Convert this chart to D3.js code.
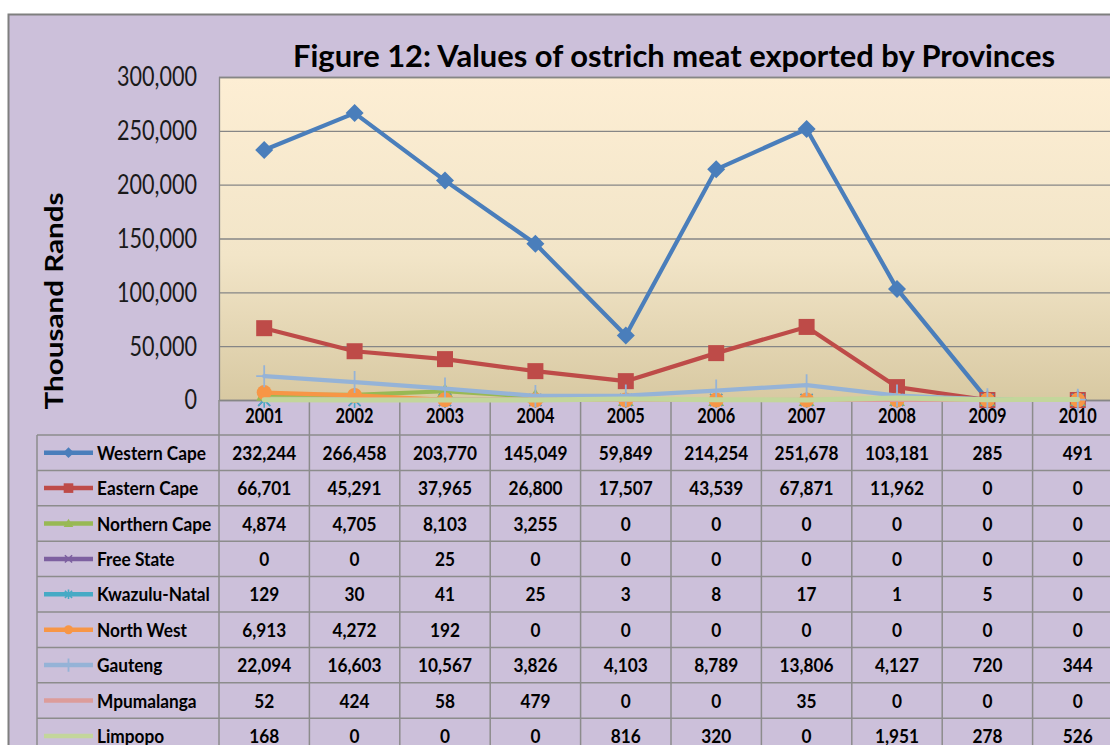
<!DOCTYPE html>
<html><head><meta charset="utf-8">
<script src="https://cdn.jsdelivr.net/npm/d3@7"></script>
<style>
html,body{margin:0;padding:0;background:#fff;overflow:hidden}
text{font-family:Lato,"Open Sans",sans-serif}
</style></head>
<body>
<svg id="c" width="1110" height="745"></svg>
<script>
const years = ["2001","2002","2003","2004","2005","2006","2007","2008","2009","2010"];
const provinces = ["Western Cape","Eastern Cape","Northern Cape","Free State","Kwazulu-Natal","North West","Gauteng","Mpumalanga","Limpopo"];
const westernCape  = [232244,266458,203770,145049,59849,214254,251678,103181,285,491];
const easternCape  = [66701,45291,37965,26800,17507,43539,67871,11962,0,0];
const northernCape = [4874,4705,8103,3255,0,0,0,0,0,0];
const freeState    = [0,0,25,0,0,0,0,0,0,0];
const kwazuluNatal = [129,30,41,25,3,8,17,1,5,0];
const northWest    = [6913,4272,192,0,0,0,0,0,0,0];
const gauteng      = [22094,16603,10567,3826,4103,8789,13806,4127,720,344];
const mpumalanga   = [52,424,58,479,0,0,35,0,0,0];
const limpopo      = [168,0,0,0,816,320,0,1951,278,526];
const yTicks = [0,50000,100000,150000,200000,250000,300000];
const title = "Figure 12: Values of ostrich meat exported by Provinces";
const yTitle = "Thousand Rands";

const seriesValues = [westernCape,easternCape,northernCape,freeState,kwazuluNatal,northWest,gauteng,mpumalanga,limpopo];
const colors = ["#4a7ebb","#be4b48","#98b954","#7d60a0","#46aac5","#f79646","#95b3d7","#dc9c9a","#c3d69b"];
const markers = ["diamond","square","triangle","x","star","circle","plus",null,null];

const svg = d3.select("#c");
const plotL = 219, plotT = 77, plotB = 400, colW = 90.4;
const plotR = plotL + colW*years.length;
const rowTop = 435, rowH = 35.4, tableL = 37;

// background
svg.append("rect").attr("x",8.5).attr("y",14.5).attr("width",1200).attr("height",800)
  .attr("fill","#ccc0da").attr("stroke","#7f7f7f").attr("stroke-width",2);

const defs = svg.append("defs");
const grad = defs.append("linearGradient").attr("id","pg").attr("x1",0).attr("y1",0).attr("x2",0).attr("y2",1);
grad.append("stop").attr("offset","0%").attr("stop-color","#fdeed4");
grad.append("stop").attr("offset","55%").attr("stop-color","#f2e5c8");
grad.append("stop").attr("offset","100%").attr("stop-color","#d8c9a2");

const x = d3.scaleBand().domain(years).range([plotL,plotR]);
const y = d3.scaleLinear().domain([0,300000]).range([plotB,plotT]);

svg.append("rect").attr("x",plotL).attr("y",plotT).attr("width",plotR-plotL).attr("height",plotB-plotT)
  .attr("fill","url(#pg)");

// gridlines
const yAxisG = svg.append("g").attr("transform",`translate(${plotL},0)`)
  .call(d3.axisLeft(y).tickValues(yTicks).tickSize(-(plotR-plotL)).tickPadding(22).tickFormat(d3.format(",")));
yAxisG.select(".domain").attr("stroke","#868686").attr("stroke-width",1.3);
yAxisG.selectAll(".tick line").attr("stroke","#868686").attr("stroke-width",1.3);
yAxisG.selectAll(".tick text").attr("fill","#1a1a1a").style("font-size","26px").attr("dy","0.34em");

// table lines
const tg = svg.append("g").attr("stroke","#8c8c8c").attr("stroke-width",1.5);
for (let i=0;i<=years.length;i++){
  const xx = plotL + colW*i;
  tg.append("line").attr("x1",xx).attr("x2",xx).attr("y1",plotB).attr("y2",800);
}
for (let r=0;r<=provinces.length+1;r++){
  const yy = rowTop + rowH*r;
  tg.append("line").attr("x1",tableL).attr("x2",1200).attr("y1",yy).attr("y2",yy);
}
tg.append("line").attr("x1",tableL).attr("x2",tableL).attr("y1",rowTop).attr("y2",800);

// year labels
const xAxisG = svg.append("g");
xAxisG.selectAll("text").data(years).join("text")
  .attr("class","yr")
  .attr("x",d=>x(d)+x.bandwidth()/2).attr("y",423)
  .attr("text-anchor","middle").attr("font-weight","bold").style("font-size","21px").attr("fill","#000")
  .text(d=>d);

// marker drawing
function drawMarker(g, type, color, s){
  const k = s;
  if (type==="diamond"){
    g.append("path").attr("d",`M0,${-9*k}L${9*k},0L0,${9*k}L${-9*k},0Z`).attr("fill",color);
  } else if (type==="square"){
    g.append("rect").attr("x",-8*k).attr("y",-8*k).attr("width",16*k).attr("height",16*k).attr("fill",color);
  } else if (type==="triangle"){
    g.append("path").attr("d",`M0,${-8*k}L${8*k},${6*k}L${-8*k},${6*k}Z`).attr("fill",color);
  } else if (type==="circle"){
    g.append("circle").attr("r",7.5*k).attr("fill",color);
  } else if (type==="x"){
    g.append("path").attr("d",`M${-6*k},${-6*k}L${6*k},${6*k}M${6*k},${-6*k}L${-6*k},${6*k}`).attr("stroke",color).attr("stroke-width",1.6);
  } else if (type==="star"){
    g.append("path").attr("d",`M${-6*k},${-6*k}L${6*k},${6*k}M${6*k},${-6*k}L${-6*k},${6*k}M0,${-8*k}L0,${8*k}`).attr("stroke",color).attr("stroke-width",1.6);
  } else if (type==="plus"){
    g.append("path").attr("d",`M${-8*k},0L${8*k},0M0,${-11*k}L0,${11*k}`).attr("stroke",color).attr("stroke-width",1.8);
  }
}

const line = d3.line().x((d,i)=>x(years[i])+x.bandwidth()/2).y(d=>y(d));
const plotG = svg.append("g");
seriesValues.forEach((vals,si)=>{
  const g = plotG.append("g");
  g.append("path").datum(vals).attr("d",line).attr("fill","none")
    .attr("stroke",colors[si]).attr("stroke-width",si===8?5:4.2).attr("stroke-linejoin","round").attr("stroke-linecap","round");
  if (markers[si]){
    vals.forEach((v,i)=>{
      const mg = g.append("g").attr("transform",`translate(${x(years[i])+x.bandwidth()/2},${y(v)})`);
      drawMarker(mg, markers[si], colors[si], 1);
    });
  }
});

// table content
const fmt = d3.format(",");
provinces.forEach((p,ri)=>{
  const cy = rowTop + rowH*ri + rowH/2;
  svg.append("line").attr("x1",44).attr("x2",93).attr("y1",cy).attr("y2",cy)
    .attr("stroke",colors[ri]).attr("stroke-width",4.5);
  if (markers[ri]){
    const mg = svg.append("g").attr("transform",`translate(68.5,${cy})`);
    drawMarker(mg, markers[ri], colors[ri], 0.6);
  }
  svg.append("text").attr("class","leg").attr("x",97).attr("y",cy+7)
    .attr("font-weight","bold").style("font-size","19px").attr("fill","#000").text(p);
  seriesValues[ri].forEach((v,ci)=>{
    svg.append("text").attr("class","val").attr("x",x(years[ci])+x.bandwidth()/2).attr("y",cy+7)
      .attr("text-anchor","middle").attr("font-weight","bold").style("font-size","19.5px").attr("fill","#000")
      .text(fmt(v));
  });
});

// titles
svg.append("text").attr("class","ttl").attr("x",293).attr("y",67)
  .attr("font-weight","bold").style("font-size","30px").attr("fill","#000").text(title);
svg.append("text").attr("class","ytl").attr("transform","translate(63,301) rotate(-90)")
  .attr("text-anchor","middle").attr("font-weight","bold").style("font-size","24px").attr("fill","#000").text(yTitle);

// horizontal fitting to match reference text widths
function fit(sel, refText, refWidth){
  const n = sel.node(); if(!n) return;
  const t = svg.append("text").attr("font-weight",n.getAttribute("font-weight")).style("font-size",n.style.fontSize).text(refText);
  const ratio = refWidth / t.node().getComputedTextLength();
  t.remove();
  sel.each(function(){
    const w = this.getComputedTextLength();
    d3.select(this).attr("textLength",w*ratio).attr("lengthAdjust","spacingAndGlyphs");
  });
}
fit(svg.selectAll("text.val"),"232,244",64);
fit(svg.selectAll("text.leg"),"Western Cape",109);
fit(svg.selectAll("text.yr"),"2001",38);
fit(yAxisG.selectAll(".tick text"),"300,000",80);
fit(svg.selectAll("text.ttl"),title,762);
fit(svg.selectAll("text.ytl"),yTitle,217);
</script>
</body></html>
